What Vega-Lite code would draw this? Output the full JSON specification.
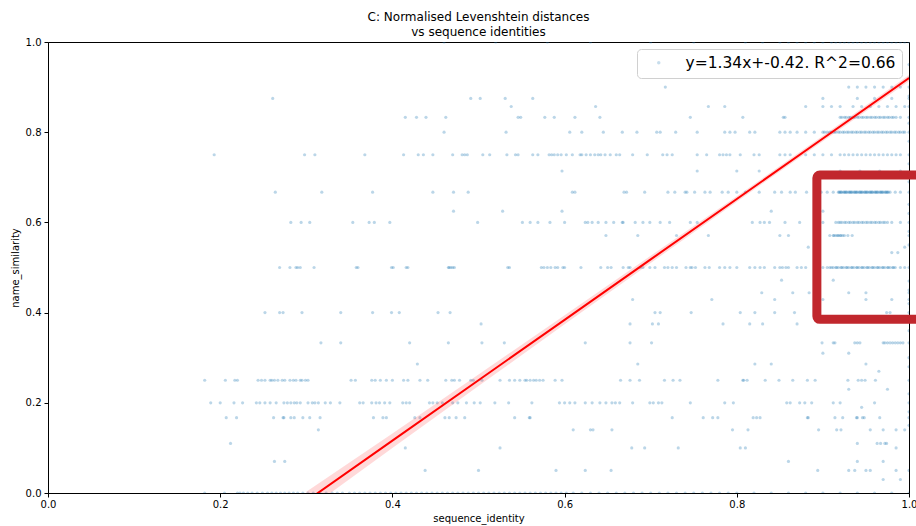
{
  "$schema": "https://vega.github.io/schema/vega-lite/v6.json",
  "width": 861,
  "height": 451,
  "autosize": {"type": "none"},
  "padding": {"left": 48, "top": 42, "right": 7, "bottom": 33},
  "background": "white",
  "config": {
    "font": "DejaVu Sans",
    "view": {"stroke": "black", "strokeWidth": 1},
    "axis": {
      "labelFont": "DejaVu Sans", "labelFontSize": 10, "labelColor": "black", "labelFlush": false, "labelOverlap": false,
      "titleFont": "DejaVu Sans", "titleFontSize": 10, "titleFontWeight": "normal", "titleColor": "black",
      "tickColor": "black", "tickSize": 4, "domainColor": "black", "grid": false
    },
    "legend": {
      "orient": "top-right", "offset": 7, "fillColor": "white", "strokeColor": "#d0d0d0",
      "cornerRadius": 4, "padding": 6, "labelFont": "DejaVu Sans", "labelFontSize": 15.5,
      "labelColor": "black", "labelLimit": 500, "symbolSize": 12, "symbolOpacity": 0.25,
      "symbolOffset": 8, "labelOffset": 19, "symbolStrokeWidth": 0
    }
  },
  "title": {
    "text": ["C: Normalised Levenshtein distances", "vs sequence identities"],
    "font": "DejaVu Sans", "fontSize": 12, "fontWeight": "normal", "color": "black",
    "lineHeight": 15, "offset": -2, "anchor": "middle"
  },
  "layer": [
    {
      "data": {"values": [
        {"y": 1.0, "xs": [0.46, 0.52, 0.58, 0.63, 0.7, 0.75, 0.81, 0.83, 0.85, 0.86, 0.87, 0.88, 0.89, 0.9, 0.91, 0.915, 0.92, 0.925, 0.93, 0.935, 0.94, 0.945, 0.95, 0.955, 0.96, 0.965, 0.97, 0.975, 0.98, 0.985, 0.99, 0.995, 1.0]},
        {"y": 0.9, "xs": [0.717, 0.93, 0.94, 0.95, 0.96, 0.97, 0.98, 0.99, 1.0]},
        {"y": 0.875, "xs": [0.261, 0.491, 0.502, 0.531, 0.563, 0.9, 0.94, 0.96, 0.98, 1.0]},
        {"y": 0.857, "xs": [0.538, 0.636, 0.767, 0.786, 0.88, 0.9, 0.91, 0.92, 0.935, 0.945, 0.955, 0.965, 0.975, 0.985, 0.995, 1.0]},
        {"y": 0.833, "xs": [0.415, 0.428, 0.439, 0.462, 0.546, 0.549, 0.577, 0.588, 0.612, 0.641, 0.746, 0.807, 0.854, 0.856, 0.92, 0.925, 0.93, 0.935, 0.94, 0.945, 0.95, 0.955, 0.96, 0.965, 0.97, 0.975, 0.98, 0.985, 0.99, 1.0]},
        {"y": 0.833, "xs": [0.922, 0.927, 0.932, 0.937, 0.942, 0.947, 0.952, 0.957, 0.962, 0.967, 0.972, 0.977, 0.982]},
        {"y": 0.8, "xs": [0.46, 0.532, 0.606, 0.62, 0.645, 0.667, 0.684, 0.707, 0.711, 0.729, 0.754, 0.786, 0.792, 0.798, 0.815, 0.821, 0.85, 0.856, 0.862, 0.87, 0.88, 0.89, 0.9, 0.905, 0.91, 0.915, 0.92, 0.925, 0.93, 0.935, 0.94, 0.945, 0.95, 0.955, 0.96, 0.965, 0.97, 0.975, 0.98, 0.985, 0.99, 0.995, 1.0]},
        {"y": 0.8, "xs": [0.902, 0.908, 0.913, 0.918, 0.923, 0.928, 0.933, 0.938, 0.943, 0.948, 0.953, 0.958, 0.963, 0.968, 0.973, 0.978, 0.983, 0.988, 0.993]},
        {"y": 0.75, "xs": [0.193, 0.298, 0.31, 0.368, 0.413, 0.43, 0.436, 0.447, 0.47, 0.481, 0.484, 0.487, 0.505, 0.513, 0.533, 0.543, 0.546, 0.563, 0.569, 0.582, 0.585, 0.588, 0.592, 0.596, 0.602, 0.609, 0.618, 0.62, 0.625, 0.63, 0.635, 0.639, 0.642, 0.647, 0.653, 0.66, 0.664, 0.679, 0.696, 0.714, 0.719, 0.725, 0.754, 0.765, 0.78, 0.784, 0.788, 0.792, 0.804, 0.82, 0.826, 0.85, 0.856, 0.862, 0.88, 0.89, 0.9, 0.91, 0.92, 0.93, 0.94, 0.95, 0.96, 0.97, 0.98, 0.99, 1.0]},
        {"y": 0.75, "xs": [0.925, 0.935, 0.945, 0.955, 0.965, 0.975, 0.985]},
        {"y": 0.714, "xs": [0.597, 0.754, 0.8, 0.826, 0.92, 0.943, 0.966, 0.99]},
        {"y": 0.667, "xs": [0.264, 0.318, 0.377, 0.447, 0.471, 0.488, 0.609, 0.612, 0.669, 0.672, 0.693, 0.72, 0.728, 0.74, 0.742, 0.751, 0.763, 0.769, 0.783, 0.79, 0.8, 0.81, 0.826, 0.844, 0.852, 0.862, 0.868, 0.881, 0.898, 0.905, 0.912, 0.919, 0.922, 0.925, 0.928, 0.931, 0.934, 0.937, 0.94, 0.943, 0.946, 0.949, 0.952, 0.955, 0.958, 0.961, 0.964, 0.967, 0.97, 0.973, 0.976, 0.978, 0.984, 0.99, 1.0]},
        {"y": 0.667, "xs": [0.918, 0.921, 0.924, 0.927, 0.93, 0.933, 0.936, 0.939, 0.942, 0.945, 0.948, 0.951, 0.954, 0.957, 0.96, 0.963, 0.966, 0.969, 0.972, 0.975]},
        {"y": 0.667, "xs": [0.92, 0.926, 0.932, 0.938, 0.944, 0.95, 0.956, 0.962, 0.968, 0.974]},
        {"y": 0.625, "xs": [0.471, 0.528, 0.597, 0.84, 0.9]},
        {"y": 0.6, "xs": [0.282, 0.294, 0.304, 0.354, 0.373, 0.379, 0.397, 0.499, 0.551, 0.56, 0.569, 0.583, 0.6, 0.624, 0.627, 0.632, 0.639, 0.648, 0.657, 0.667, 0.668, 0.682, 0.691, 0.699, 0.711, 0.722, 0.746, 0.754, 0.818, 0.827, 0.832, 0.838, 0.856, 0.873, 0.9, 0.915, 0.92, 0.925, 0.93, 0.935, 0.94, 0.945, 0.95, 0.955, 0.96, 0.965, 0.97, 0.975, 0.98, 0.99, 1.0]},
        {"y": 0.6, "xs": [0.918, 0.922, 0.927, 0.932, 0.937, 0.942, 0.947, 0.952, 0.957, 0.962, 0.967, 0.972]},
        {"y": 0.571, "xs": [0.648, 0.685, 0.73, 0.767, 0.85, 0.86, 0.908, 0.912, 0.915, 0.918, 0.921, 0.925, 0.929, 0.934, 1.0]},
        {"y": 0.571, "xs": [0.913, 0.917, 0.92, 0.923]},
        {"y": 0.545, "xs": [0.883, 0.995]},
        {"y": 0.533, "xs": [0.98, 0.987]},
        {"y": 0.5, "xs": [0.269, 0.281, 0.288, 0.29, 0.293, 0.309, 0.358, 0.36, 0.399, 0.401, 0.416, 0.418, 0.465, 0.466, 0.468, 0.47, 0.472, 0.534, 0.536, 0.573, 0.576, 0.58, 0.584, 0.589, 0.592, 0.598, 0.6, 0.619, 0.642, 0.65, 0.654, 0.668, 0.674, 0.676, 0.688, 0.691, 0.699, 0.705, 0.716, 0.72, 0.725, 0.73, 0.741, 0.746, 0.748, 0.752, 0.763, 0.768, 0.78, 0.786, 0.792, 0.8, 0.815, 0.821, 0.827, 0.832, 0.844, 0.85, 0.853, 0.857, 0.86, 0.87, 0.875, 0.88, 0.9, 0.905, 0.908, 0.912, 0.915, 0.918, 0.921, 0.924, 0.927, 0.93, 0.933, 0.936, 0.939, 0.942, 0.945, 0.948, 0.951, 0.954, 0.957, 0.96, 0.963, 0.966, 0.969, 0.972, 0.975, 0.978, 0.981, 0.984, 0.99, 0.995, 1.0]},
        {"y": 0.5, "xs": [0.91, 0.916, 0.922, 0.928, 0.934, 0.94, 0.946, 0.952, 0.958, 0.964, 0.97, 0.976, 0.982]},
        {"y": 0.472, "xs": [0.912, 0.852]},
        {"y": 0.444, "xs": [0.829, 0.865, 0.884, 0.93, 0.95, 1.0]},
        {"y": 0.429, "xs": [0.679, 0.771, 0.844, 0.9, 0.95, 0.98, 1.0]},
        {"y": 0.4, "xs": [0.252, 0.269, 0.273, 0.295, 0.34, 0.377, 0.399, 0.408, 0.453, 0.467, 0.705, 0.711, 0.747, 0.804, 0.821, 0.844, 0.867, 0.974, 0.978, 1.0]},
        {"y": 0.375, "xs": [0.503, 0.676, 0.702, 0.709, 0.784, 0.815, 0.83, 0.87]},
        {"y": 0.333, "xs": [0.317, 0.34, 0.42, 0.465, 0.504, 0.53, 0.624, 0.676, 0.701, 0.899, 0.912, 0.914, 0.937, 0.94, 0.943, 0.97, 0.972, 0.975, 0.978, 0.981, 0.984, 0.987, 0.99, 0.993, 1.0]},
        {"y": 0.31, "xs": [0.9, 0.93]},
        {"y": 0.286, "xs": [0.429, 0.685, 0.821, 0.84, 0.95]},
        {"y": 0.27, "xs": [0.965]},
        {"y": 0.25, "xs": [0.182, 0.206, 0.217, 0.22, 0.244, 0.248, 0.252, 0.258, 0.26, 0.263, 0.267, 0.272, 0.275, 0.281, 0.285, 0.288, 0.293, 0.295, 0.299, 0.302, 0.352, 0.357, 0.376, 0.38, 0.386, 0.393, 0.4, 0.413, 0.418, 0.432, 0.441, 0.462, 0.469, 0.472, 0.478, 0.491, 0.494, 0.504, 0.525, 0.536, 0.542, 0.548, 0.554, 0.556, 0.56, 0.564, 0.567, 0.571, 0.575, 0.589, 0.597, 0.665, 0.676, 0.687, 0.716, 0.726, 0.734, 0.778, 0.807, 0.808, 0.812, 0.833, 0.849, 0.865, 0.882, 0.891, 0.929, 0.941, 0.945, 0.949, 0.961, 1.0]},
        {"y": 0.23, "xs": [0.93, 0.975]},
        {"y": 0.2, "xs": [0.189, 0.2, 0.216, 0.226, 0.242, 0.246, 0.252, 0.258, 0.265, 0.274, 0.278, 0.282, 0.286, 0.289, 0.293, 0.302, 0.307, 0.31, 0.314, 0.322, 0.328, 0.339, 0.362, 0.366, 0.376, 0.381, 0.385, 0.391, 0.397, 0.412, 0.416, 0.42, 0.443, 0.447, 0.452, 0.458, 0.47, 0.476, 0.486, 0.495, 0.502, 0.519, 0.535, 0.562, 0.594, 0.6, 0.606, 0.612, 0.624, 0.632, 0.641, 0.648, 0.655, 0.659, 0.664, 0.679, 0.699, 0.703, 0.709, 0.713, 0.746, 0.786, 0.796, 0.858, 0.862, 0.873, 0.879, 0.887, 0.912, 0.92, 0.96, 1.0]},
        {"y": 0.19, "xs": [0.945]},
        {"y": 0.167, "xs": [0.207, 0.219, 0.262, 0.273, 0.274, 0.282, 0.286, 0.296, 0.304, 0.316, 0.378, 0.389, 0.393, 0.426, 0.432, 0.461, 0.466, 0.474, 0.484, 0.542, 0.56, 0.559, 0.725, 0.761, 0.772, 0.778, 0.819, 0.823, 0.827, 0.882, 0.883, 0.914, 0.923, 0.939, 0.94, 0.946, 0.948, 0.966, 1.0]},
        {"y": 0.14, "xs": [0.314, 0.61, 0.63, 0.633, 0.655, 0.795, 0.813, 0.895, 0.916, 0.921, 0.955, 0.97, 0.985, 0.995]},
        {"y": 0.11, "xs": [0.212, 0.94, 0.963, 0.967, 0.972, 0.974]},
        {"y": 0.1, "xs": [0.415, 0.525, 0.678, 0.693, 0.732, 0.804, 0.81, 0.985]},
        {"y": 0.07, "xs": [0.263, 0.275, 0.86, 0.94, 0.97]},
        {"y": 0.05, "xs": [0.438, 0.5, 0.59, 0.624, 0.654, 0.894, 0.93, 0.937, 0.95, 0.955, 0.985]},
        {"y": 0.03, "xs": [0.97, 0.99]},
        {"y": 0.0, "xs": [0.182, 0.205, 0.22, 0.223, 0.227, 0.232, 0.237, 0.243, 0.249, 0.255, 0.26, 0.265, 0.27, 0.275, 0.28, 0.285, 0.29, 0.296, 0.302, 0.308, 0.316, 0.323, 0.33, 0.336, 0.342, 0.35, 0.356, 0.362, 0.368, 0.374, 0.38, 0.386, 0.392, 0.398, 0.404, 0.41, 0.416, 0.422, 0.428, 0.434, 0.44, 0.446, 0.452, 0.458, 0.464, 0.47, 0.476, 0.482, 0.488, 0.494, 0.5, 0.506, 0.512, 0.518, 0.524, 0.53, 0.536, 0.542, 0.548, 0.554, 0.56, 0.566, 0.572, 0.578, 0.584, 0.59, 0.596, 0.602, 0.61, 0.62, 0.63, 0.64, 0.65, 0.66, 0.67, 0.68, 0.69, 0.7, 0.71, 0.72, 0.73, 0.74, 0.75, 0.76, 0.77, 0.78, 0.79, 0.8, 0.82, 0.84, 0.86, 0.88, 0.9, 0.92, 0.94, 0.96, 0.98, 1.0]},
        {"y": 0.05, "xs": [1.0]}, {"y": 0.15, "xs": [1.0]}, {"y": 0.18, "xs": [1.0]}, {"y": 0.22, "xs": [1.0]},
        {"y": 0.28, "xs": [1.0]}, {"y": 0.3, "xs": [1.0]}, {"y": 0.36, "xs": [1.0]}, {"y": 0.38, "xs": [1.0]},
        {"y": 0.42, "xs": [1.0]}, {"y": 0.45, "xs": [1.0]}, {"y": 0.47, "xs": [1.0]}, {"y": 0.55, "xs": [1.0]},
        {"y": 0.58, "xs": [1.0]}, {"y": 0.62, "xs": [1.0]}, {"y": 0.64, "xs": [1.0]}, {"y": 0.69, "xs": [1.0]},
        {"y": 0.73, "xs": [1.0]}, {"y": 0.78, "xs": [1.0]}, {"y": 0.82, "xs": [1.0]}, {"y": 0.88, "xs": [1.0]},
        {"y": 0.92, "xs": [1.0]}, {"y": 0.95, "xs": [1.0]}
      ]},
      "transform": [{"flatten": ["xs"], "as": ["x"]}],
      "mark": {"type": "circle", "size": 10, "opacity": 0.3, "clip": true},
      "encoding": {
        "x": {"field": "x", "type": "quantitative",
          "scale": {"domain": [0, 1], "nice": false, "zero": false},
          "axis": {"title": "sequence_identity", "values": [0, 0.2, 0.4, 0.6, 0.8, 1.0], "format": ".1f", "labelPadding": 2, "titlePadding": 4}},
        "y": {"field": "y", "type": "quantitative",
          "scale": {"domain": [0, 1], "nice": false, "zero": false},
          "axis": {"title": "name_similarity", "values": [0, 0.2, 0.4, 0.6, 0.8, 1.0], "format": ".1f", "labelPadding": 3, "titlePadding": 5}},
        "color": {"datum": "y=1.34x+-0.42. R^2=0.66", "type": "nominal",
          "scale": {"range": ["#1f77b4"]}, "legend": {"title": null}}
      }
    },
    {
      "data": {"values": [
        {"x": 0.3, "fit": -0.018, "lo": -0.039, "hi": 0.003},
        {"x": 0.4, "fit": 0.116, "lo": 0.1, "hi": 0.132},
        {"x": 0.5, "fit": 0.25, "lo": 0.237, "hi": 0.263},
        {"x": 0.6, "fit": 0.384, "lo": 0.374, "hi": 0.394},
        {"x": 0.7, "fit": 0.518, "lo": 0.51, "hi": 0.526},
        {"x": 0.8, "fit": 0.652, "lo": 0.646, "hi": 0.658},
        {"x": 0.9, "fit": 0.786, "lo": 0.78, "hi": 0.792},
        {"x": 1.0, "fit": 0.92, "lo": 0.913, "hi": 0.927}
      ]},
      "layer": [
        {
          "mark": {"type": "area", "color": "#ff0000", "opacity": 0.15, "clip": true},
          "encoding": {
            "x": {"field": "x", "type": "quantitative"},
            "y": {"field": "lo", "type": "quantitative"},
            "y2": {"field": "hi"}
          }
        },
        {
          "mark": {"type": "line", "color": "#ff0000", "strokeWidth": 2, "clip": true},
          "encoding": {
            "x": {"field": "x", "type": "quantitative"},
            "y": {"field": "fit", "type": "quantitative"}
          }
        }
      ]
    },
    {
      "data": {"values": [{"x": 0.893, "x2": 1.05, "y": 0.385, "y2": 0.705}]},
      "mark": {"type": "rect", "fill": null, "fillOpacity": 0, "stroke": "#c1272d", "strokeWidth": 9, "cornerRadius": 3, "clip": false},
      "encoding": {
        "x": {"field": "x", "type": "quantitative"},
        "x2": {"field": "x2"},
        "y": {"field": "y", "type": "quantitative"},
        "y2": {"field": "y2"}
      }
    }
  ]
}
